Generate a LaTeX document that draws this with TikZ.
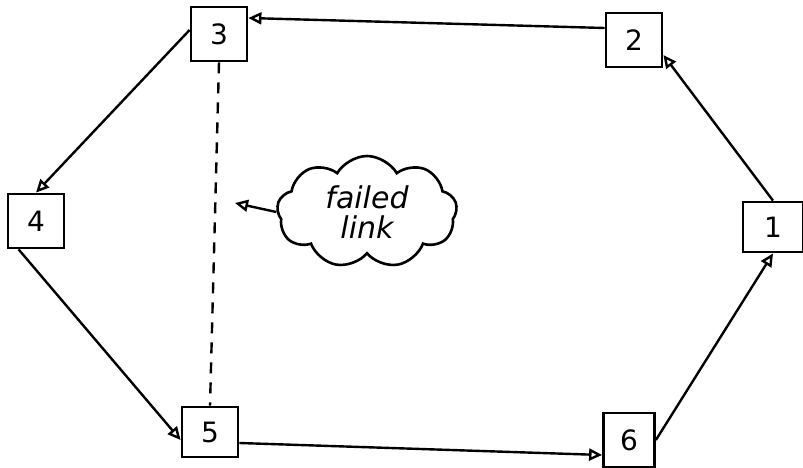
\documentclass[tikz,border=0pt]{standalone}
\usepackage{fontspec}
\setmainfont{DejaVu Sans}
\usetikzlibrary{arrows.meta,shapes.symbols}
\begin{document}
\begin{tikzpicture}[x=1pt,y=-1pt,
  box/.style={draw,line width=2.8pt,minimum width=56pt,minimum height=54pt,font=\fontsize{28}{30}\selectfont,inner sep=0pt},
  link/.style={line width=2.4pt,-{Triangle[open,length=13pt,width=12pt,line width=2.4pt]}},
  failed/.style={line width=2.4pt,dash pattern=on 11pt off 9pt}]
\useasboundingbox (0,0) rectangle (803,468);
\node[box] (n3) at (219,34) {3};
\node[box] (n2) at (634,40) {2};
\node[box] (n4) at (36,221) {4};
\node[box,minimum width=60pt,minimum height=50pt] (n1) at (773,227) {1};
\node[box,minimum height=50pt] (n5) at (210,432) {5};
\node[box,minimum width=51pt] (n6) at (629,440) {6};
\node[cloud,draw,line width=2.6pt,cloud puffs=9,cloud puff arc=120,aspect=1.6,minimum width=180pt,minimum height=112pt,align=center,inner sep=0pt,font=\fontsize{30}{30}\selectfont\itshape] (c) at (367,212) {failed\\link};
\coordinate (t) at (235,203);
\draw[link] (n2.west |- 0,28) -- (n3.east |- 0,18);
\draw[link] (n1.north) -- (n2.east |- 0,55);
\draw[link] (n3.west |- 0,30) -- (n4.north);
\draw[link] (n4.south west) ++(12,0) -- (n5.west |- 0,440);
\draw[link] (n5.east |- 0,443) -- (n6.west |- 0,455);
\draw[link] (n6.east |- 0,440) -- (n1.south);
\draw[failed] (n3.south) -- (n5.north);
\draw[link] (c.west) -- (t);
\end{tikzpicture}
\end{document}
